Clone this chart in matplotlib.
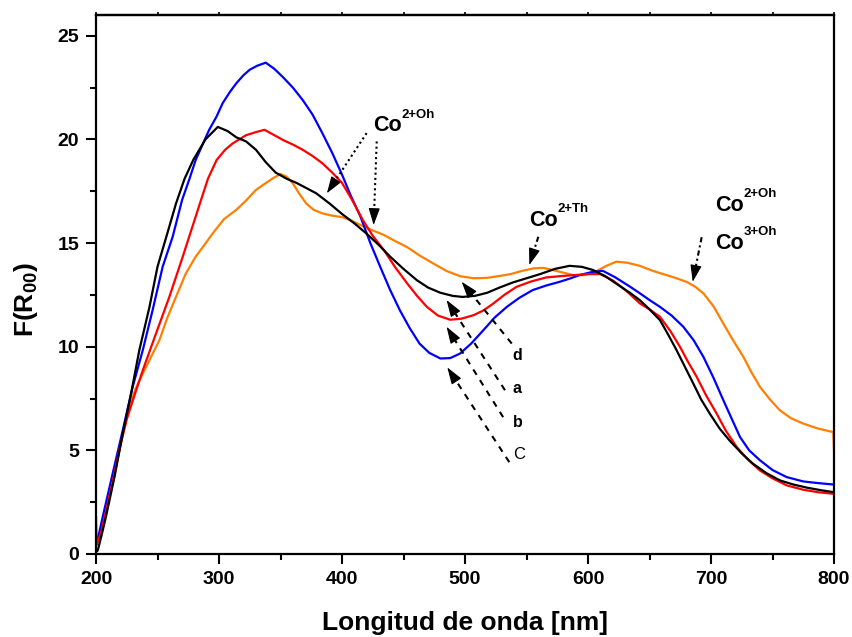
import matplotlib
matplotlib.use("Agg")
import numpy as np
import matplotlib.pyplot as plt
from matplotlib.ticker import MultipleLocator

plt.rcParams['font.family'] = ['Liberation Sans', 'DejaVu Sans']
plt.rcParams['mathtext.fontset'] = 'custom'
plt.rcParams['mathtext.rm'] = 'Liberation Sans'
plt.rcParams['mathtext.bf'] = 'Liberation Sans:bold'

# ---- data ----
wl_black = [200, 201.4, 204.5, 208, 215, 221.7, 228.5, 235.2, 243.4, 250, 258, 265, 272, 279, 289,
            299, 307, 314, 322, 330, 338, 346, 355, 363, 371, 379, 390, 400, 410, 420, 430, 439,
            450, 461, 470, 480, 490, 498, 508, 518, 528, 539, 550, 561, 573, 585, 595, 604, 614,
            624, 634, 642, 650, 658.5, 665, 672, 679, 685.6, 692, 699, 707, 715, 725, 734, 745,
            756, 767, 778, 790, 800]
f_black = [0.1, 0.17, 0.9, 1.78, 3.71, 5.8, 7.74, 9.83, 11.9, 13.86, 15.47, 16.9, 18.1, 19.0, 20.0,
           20.6, 20.4, 20.1, 19.9, 19.5, 18.9, 18.4, 18.1, 17.9, 17.65, 17.4, 16.9, 16.4, 15.95,
           15.45, 14.9, 14.35, 13.75, 13.2, 12.85, 12.6, 12.45, 12.4, 12.45, 12.6, 12.85, 13.1,
           13.3, 13.5, 13.75, 13.9, 13.85, 13.7, 13.4, 13.0, 12.6, 12.25, 11.8, 11.28, 10.6, 9.83,
           9.0, 8.22, 7.45, 6.77, 6.05, 5.48, 4.85, 4.36, 3.9, 3.55, 3.35, 3.2, 3.07, 2.98]

wl_blue = [200, 202.5, 205.4, 213.5, 221.7, 229.8, 238, 246, 254.2, 262.3, 270, 276, 281, 287, 292,
           298, 303, 309, 314, 320, 325, 331, 338, 345, 352, 360, 368, 376, 384, 392, 400, 407,
           415, 423, 431, 439, 447, 455, 463, 471, 480, 488, 496, 505, 515, 524, 534, 544, 555,
           566, 577, 585, 593, 603, 612, 622, 634, 642.3, 650, 658.5, 668, 677.5, 686, 693.8, 702,
           710, 717, 723.6, 731, 739.8, 750, 761.5, 775, 787, 800]
f_blue = [0.5, 1.0, 1.78, 3.87, 5.96, 8.06, 9.83, 11.76, 13.86, 15.3, 17.08, 18.1, 19.0, 19.8, 20.46,
          21.1, 21.75, 22.3, 22.7, 23.1, 23.36, 23.55, 23.7, 23.4, 23.0, 22.5, 21.9, 21.2, 20.3,
          19.35, 18.3, 17.3, 16.27, 15.0, 13.86, 12.75, 11.76, 10.9, 10.15, 9.7, 9.43, 9.45, 9.67,
          10.15, 10.8, 11.4, 11.92, 12.35, 12.73, 12.95, 13.13, 13.28, 13.45, 13.6, 13.66, 13.35,
          12.9, 12.57, 12.25, 11.92, 11.5, 10.96, 10.3, 9.51, 8.5, 7.42, 6.5, 5.64, 5.0, 4.52, 4.05,
          3.71, 3.5, 3.42, 3.35]

wl_red = [200, 200.5, 204, 208, 214, 220, 225, 230, 238, 248.8, 259.6, 270.5, 281, 285.4, 291, 298,
          305, 311, 322, 330, 337, 345, 352, 360, 368, 376, 384, 392, 400, 408, 417, 425, 434, 443,
          453, 461, 469, 478, 488, 497, 507, 515, 523, 532, 542, 554, 566, 577, 588, 600, 610, 620,
          631, 642.3, 650, 658.5, 667, 674.8, 681, 688.4, 696, 704.6, 712, 720.9, 730, 739.8, 750,
          761.5, 775, 787, 800]
f_red = [1.78, 0.45, 1.0, 2.0, 3.6, 5.3, 6.5, 7.42, 8.86, 10.64, 12.4, 14.34, 16.27, 17.08, 18.1,
         19.0, 19.5, 19.8, 20.2, 20.35, 20.46, 20.2, 19.97, 19.75, 19.5, 19.2, 18.85, 18.4, 17.9,
         17.1, 16.1, 15.35, 14.66, 13.85, 13.05, 12.45, 11.92, 11.5, 11.3, 11.35, 11.52, 11.75,
         12.08, 12.5, 12.89, 13.15, 13.34, 13.4, 13.45, 13.5, 13.5, 13.2, 12.7, 12.08, 11.8, 11.44,
         10.75, 9.99, 9.3, 8.54, 7.65, 6.77, 5.95, 5.16, 4.55, 4.03, 3.65, 3.31, 3.1, 2.98, 2.9]

wl_orange = [200, 203, 207, 214, 220, 227, 232, 238, 243, 251.5, 258, 265, 273, 281, 289, 296, 304,
             314, 322, 330, 337, 344, 350, 355, 360, 365, 371, 377, 384, 392, 400, 407, 415, 424,
             434, 443, 453, 463, 474, 485, 496, 507, 518, 527, 537, 546, 556, 564, 569, 578, 588,
             597, 607, 615, 623, 632, 642, 653, 664, 672, 680, 687, 693.8, 702, 710, 718, 726.3,
             733, 739.8, 748, 756, 765, 775, 787, 799.4, 800]
f_orange = [0.4, 0.9, 1.9, 3.6, 5.3, 7.09, 7.95, 8.7, 9.3, 10.31, 11.4, 12.4, 13.53, 14.34, 14.98,
            15.55, 16.15, 16.6, 17.05, 17.56, 17.85, 18.13, 18.33, 18.2, 17.88, 17.4, 16.9, 16.6,
            16.43, 16.32, 16.25, 16.1, 15.87, 15.63, 15.39, 15.1, 14.8, 14.4, 14.02, 13.65, 13.4,
            13.3, 13.32, 13.4, 13.5, 13.65, 13.78, 13.8, 13.73, 13.6, 13.45, 13.45, 13.65, 13.9,
            14.1, 14.05, 13.9, 13.65, 13.45, 13.3, 13.13, 12.9, 12.57, 11.95, 11.12, 10.3, 9.51,
            8.75, 8.06, 7.45, 6.93, 6.55, 6.29, 6.05, 5.88, 5.0]

x_ticks = [200, 300, 400, 500, 600, 700, 800]
y_ticks = [0, 5, 10, 15, 20, 25]

fig = plt.figure(figsize=(8.52, 6.37), dpi=100)
ax = fig.add_axes([0.1127, 0.1303, 0.8662, 0.8462])

lw = 1.6
ax.plot(wl_orange, f_orange, color='#ff8000', lw=lw)
ax.plot(wl_blue, f_blue, color='#0000ff', lw=lw)
ax.plot(wl_red, f_red, color='#ff0000', lw=lw)
ax.plot(wl_black, f_black, color='#000000', lw=lw)

ax.set_xlim(200, 800)
ax.set_ylim(0, 26)
ax.set_xticks(x_ticks)
ax.set_yticks(y_ticks)
ax.xaxis.set_minor_locator(MultipleLocator(50))
ax.yaxis.set_minor_locator(MultipleLocator(2.5))
ax.tick_params(which='major', direction='out', length=7, width=1.5, labelsize=14, pad=5)
ax.tick_params(which='minor', direction='out', length=4, width=1.5)
for lab in ax.get_xticklabels() + ax.get_yticklabels():
    lab.set_fontweight('bold')
for s in ax.spines.values():
    s.set_linewidth(1.6)

sec = ax.secondary_xaxis('top')
sec.set_xticks(list(range(200, 801, 50)))
sec.tick_params(axis='x', direction='out', length=2.5, width=1.2, labeltop=False)
sec.spines['top'].set_linewidth(1.6)

ax.set_xlabel('Longitud de onda [nm]', fontsize=19, fontweight='bold', labelpad=17)
ax.set_ylabel(r'F(R$_{\mathbf{00}}$)', fontsize=19, fontweight='bold')
ax.yaxis.set_label_coords(-0.076, 0.473)

# ---- annotations ----
def co_label(x, y, sup):
    ax.text(x, y, 'Co', fontsize=15.5, fontweight='bold', ha='left', va='baseline')
    ax.annotate(sup, xy=(x, y), xytext=(20.5, 10), textcoords='offset points',
                fontsize=9.5, fontweight='bold', ha='left', va='baseline')

co_label(425.2, 20.38, '2+Oh')
co_label(552.3, 15.82, '2+Th')
co_label(703.2, 16.56, '2+Oh')
co_label(703.2, 14.70, '3+Oh')

def arrow(tail, head, ls, hl=14.0):
    pt = ax.transData.transform(tail)
    ph = ax.transData.transform(head)
    d = ph - pt
    u = d / np.hypot(*d)
    base = ax.transData.inverted().transform(ph - u * hl)
    ax.plot([tail[0], base[0]], [tail[1], base[1]], color='k', lw=1.5, linestyle=ls,
            solid_capstyle='butt', dash_capstyle='butt')
    ax.annotate('', xy=head, xytext=(-u[0] * hl, -u[1] * hl), textcoords='offset pixels',
                arrowprops=dict(arrowstyle='-|>,head_length=0.95,head_width=0.32',
                                color='k', lw=0.8, mutation_scale=11,
                                shrinkA=0, shrinkB=0))

arrow((420.0, 20.3), (387.7, 17.4), (0, (1, 1.5)))
arrow((428.2, 19.9), (425.7, 15.87), (0, (1, 1.5)))
arrow((559.6, 15.3), (552.3, 13.94), (0, (2.5, 1.5, 1, 1.5)))
arrow((692.4, 15.28), (685.1, 13.13), (0, (2.5, 1.5, 1, 1.5)))

arrow((538.0, 10.15), (497.3, 13.13), (0, (3, 3)))
arrow((532.5, 7.90), (485.0, 12.25), (0, (3, 3)))
arrow((531.0, 6.60), (485.0, 10.96), (0, (3, 3)))
arrow((536.0, 4.43), (485.6, 9.00), (0, (3, 3)))

ax.text(538.7, 9.35, 'd', fontsize=11.5, fontweight='bold', ha='left', va='baseline')
ax.text(538.7, 7.77, 'a', fontsize=11.5, fontweight='bold', ha='left', va='baseline')
ax.text(538.7, 6.13, 'b', fontsize=11.5, fontweight='bold', ha='left', va='baseline')
ax.text(539.0, 4.57, 'C', fontsize=12, ha='left', va='baseline')

fig.savefig('out.png', dpi=100)
